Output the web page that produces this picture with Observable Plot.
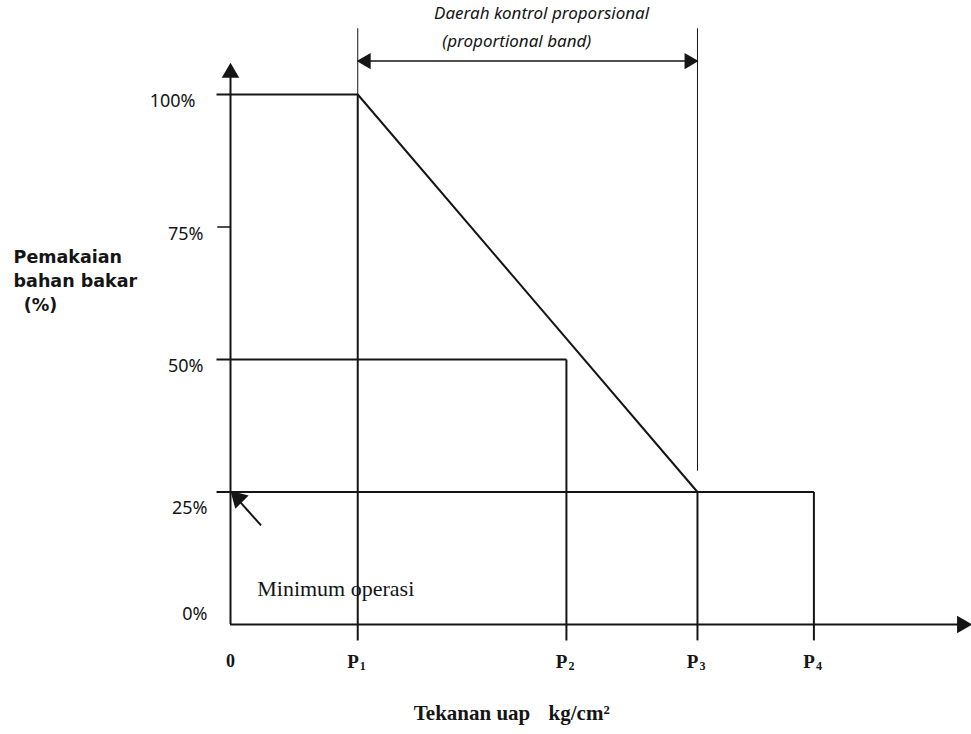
<!DOCTYPE html>
<html><head><meta charset="utf-8">
<script src="https://cdn.jsdelivr.net/npm/d3@7"></script>
<script src="https://cdn.jsdelivr.net/npm/@observablehq/plot@0.6"></script>
<style>body{margin:0;background:#fff}svg{display:block}</style>
</head><body><div id="chart"></div>
<script>
// Pressure positions (0, P1..P4) (arbitrary units)
const pressureNames = ["0", "P", "P", "P", "P"];
const pressureSubs = ["", "1", "2", "3", "4"];
const pressureValues = [0, 2.0, 5.28, 7.34, 9.17];
// Fuel-use ticks (%)
const fuelTicks = [0, 25, 50, 75, 100];
const fuelTickLabels = ["0%", "25%", "50%", "75%", "100%"];
// Step levels: fuel level and the pressure where it ends
const levelValues = [100, 50, 25];
const levelEnds = [2.0, 5.28, 9.17];
// Vertical drop lines: pressure and the level they rise to
const dropX = [2.0, 5.28, 7.34, 9.17];
const dropTop = [100, 50, 25, 25];
// Proportional control line P1 -> P3
const controlX = [2.0, 7.34];
const controlY = [100, 25];
const minimumLevel = 25;
const axisMaxX = 11.5, axisMaxY = 104.1;
const bandY = 106.3;

const P1 = pressureValues[1], P3 = pressureValues[3];
const ink = "#151515";
const levels = levelValues.map((v, i) => ({v, end: levelEnds[i]}));
const drops = dropX.map((x, i) => ({x, top: dropTop[i]}));
const ticks = fuelTicks.map((v, i) => ({v, label: fuelTickLabels[i]}));
const xlabels = pressureValues.map((x, i) => ({x, name: pressureNames[i], sub: pressureSubs[i]}));
const control = controlX.map((x, i) => ({x, y: controlY[i]}));

const sans = "'Noto Sans', sans-serif";
const serif = "'Liberation Serif', serif";
const bold = "'DejaVu Sans', sans-serif";

const chart = Plot.plot({
  width: 971, height: 734,
  marginLeft: 230, marginRight: 3, marginTop: 94, marginBottom: 110,
  x: {domain: [0, 11.6], axis: null},
  y: {domain: [0, 100], axis: null},
  style: {background: "#fff"},
  marks: [
    // axes
    Plot.ruleX([0], {y1: 0, y2: axisMaxY, stroke: ink, strokeWidth: 2}),
    Plot.ruleY([0], {x1: 0, x2: axisMaxX, stroke: ink, strokeWidth: 2}),
    Plot.dot([{x: 0, y: axisMaxY, r: 0}, {x: axisMaxX, y: 0, r: 90}],
      {x: "x", y: "y", rotate: "r", symbol: "triangle", r: 6.5, fill: ink, stroke: "none"}),
    // 75% tick
    Plot.ruleY(ticks.filter(d => d.v === 75), {y: "v", x1: -0.2, x2: 0, stroke: ink, strokeWidth: 1.5}),
    // step levels
    Plot.link(levels, {x1: -0.22, x2: "end", y1: "v", y2: "v", stroke: ink, strokeWidth: 2}),
    // drop lines
    Plot.link(drops, {x1: "x", x2: "x", y1: -3, y2: "top", stroke: ink, strokeWidth: 2}),
    // proportional control line
    Plot.line(control, {x: "x", y: "y", stroke: ink, strokeWidth: 2}),
    // proportional band markers
    Plot.link([{x: P1, y1: 100, y2: 112.5}, {x: P3, y1: 29, y2: 112.5}],
      {x1: "x", x2: "x", y1: "y1", y2: "y2", stroke: ink, strokeWidth: 1}),
    Plot.link([{a: P1 + 0.1, b: P3 - 0.1}], {x1: "a", x2: "b", y1: bandY, y2: bandY, stroke: ink, strokeWidth: 1.5}),
    Plot.dot([{x: P1 + 0.13, r: -90}, {x: P3 - 0.13, r: 90}],
      {x: "x", y: bandY, rotate: "r", symbol: "triangle", r: 6, fill: ink, stroke: "none"}),
    Plot.text(["Daerah kontrol proporsional"], {x: (P1 + P3) / 2 + 0.22, y: 115.2, text: d => d,
      fontFamily: sans, fontStyle: "italic", fontSize: 17, fill: ink}),
    Plot.text(["(proportional band)"], {x: (P1 + P3) / 2 - 0.17, y: 109.9, text: d => d,
      fontFamily: sans, fontStyle: "italic", fontSize: 17, fill: ink}),
    // minimum operation pointer
    Plot.link([{x1: 0.48, y1: 18.7, x2: 0.16, y2: minimumLevel - 2.0}],
      {x1: "x1", y1: "y1", x2: "x2", y2: "y2", stroke: ink, strokeWidth: 2}),
    Plot.dot([{x: 0.12, y: minimumLevel - 1.2}], {x: "x", y: "y", rotate: -45, symbol: "triangle", r: 7, fill: ink, stroke: "none"}),
    Plot.text(["Minimum operasi"], {x: 0.42, y: 6.8, text: d => d, textAnchor: "start",
      fontFamily: serif, fontSize: 22, fill: ink}),
    // y tick labels
    Plot.text(ticks.filter(d => d.v === 100), {x: 0, y: "v", text: "label", dx: -35, dy: 7, textAnchor: "end",
      fontFamily: sans, fontSize: 18, fill: ink}),
    Plot.text(ticks.filter(d => d.v === 75 || d.v === 50), {x: 0, y: "v", text: "label", dx: -27, dy: 7, textAnchor: "end",
      fontFamily: sans, fontSize: 18, fill: ink}),
    Plot.text(ticks.filter(d => d.v === 25), {x: 0, y: "v", text: "label", dx: -23, dy: 16, textAnchor: "end",
      fontFamily: sans, fontSize: 18, fill: ink}),
    Plot.text(ticks.filter(d => d.v === 0), {x: 0, y: "v", text: "label", dx: -23, dy: -10, textAnchor: "end",
      fontFamily: sans, fontSize: 18, fill: ink}),
    // y title
    Plot.text(["Pemakaian\nbahan bakar"], {x: -3.41, y: 67.4, text: d => d, lineHeight: 1.37, textAnchor: "start",
      fontFamily: bold, fontWeight: "bold", fontSize: 17.5, fill: ink}),
    Plot.text(["(%)"], {x: -3.25, y: 60.2, text: d => d, textAnchor: "start",
      fontFamily: bold, fontWeight: "bold", fontSize: 17.5, fill: ink}),
    // x labels
    Plot.text(xlabels.filter(d => d.sub === ""), {x: "x", y: 0, text: "name", dy: 37, textAnchor: "middle",
      fontFamily: serif, fontWeight: "bold", fontSize: 18, fill: ink}),
    Plot.text(xlabels.filter(d => d.sub !== ""), {x: "x", y: 0, text: "name", dy: 37, dx: 1, textAnchor: "end",
      fontFamily: serif, fontWeight: "bold", fontSize: 19, fill: ink}),
    Plot.text(xlabels.filter(d => d.sub !== ""), {x: "x", y: 0, text: "sub", dy: 42, dx: 2, textAnchor: "start",
      fontFamily: serif, fontWeight: "bold", fontSize: 12, fill: ink}),
    // x title
    Plot.text(["Tekanan uap"], {x: 2.88, y: 0, text: d => d, dy: 89, textAnchor: "start",
      fontFamily: serif, fontWeight: "bold", fontSize: 21, fill: ink}),
    Plot.text(["kg/cm²"], {x: 5.0, y: 0, text: d => d, dy: 89, textAnchor: "start",
      fontFamily: serif, fontWeight: "bold", fontSize: 21, fill: ink})
  ]
});
document.getElementById("chart").append(chart);
</script>
</body></html>
